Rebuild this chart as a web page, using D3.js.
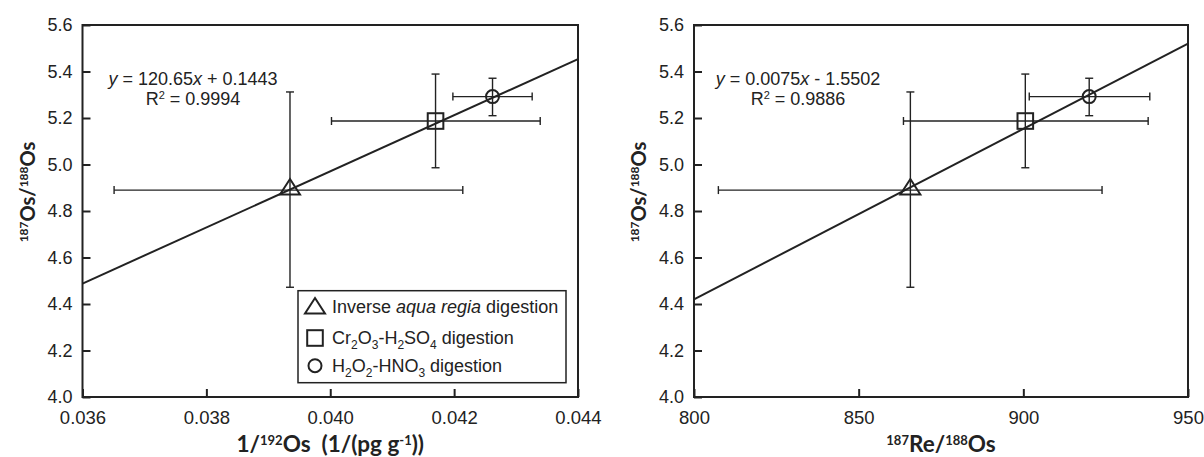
<!DOCTYPE html>
<html>
<head>
<meta charset="utf-8">
<script src="https://cdn.jsdelivr.net/npm/d3@7"></script>
<style>
  body { margin: 0; background: #fff; }
  text { fill: #222; }
</style>
</head>
<body>
<div id="wrapper"></div>
<script>
// digestion methods, one entry per point
const methods = ["triangle", "square", "circle"];

// 187Os/188Os with error range
const osRatio = [4.89, 5.187, 5.292];
const osRatioLow = [4.472, 4.986, 5.21];
const osRatioHigh = [5.312, 5.389, 5.371];

// 1/192Os (1/(pg g-1)) with error range
const invOs = [0.03935, 0.0417, 0.04262];
const invOsLow = [0.03651, 0.04002, 0.04198];
const invOsHigh = [0.04214, 0.04339, 0.04326];

// 187Re/188Os with error range
const reOs = [865.7, 900.6, 920.0];
const reOsLow = [807.4, 863.6, 901.8];
const reOsHigh = [923.9, 937.9, 938.4];

// regression lines (end points)
const fitLeftX = [0.036, 0.044];
const fitLeftY = [4.488, 5.453];
const fitRightX = [800, 950];
const fitRightY = [4.42, 5.52];

const yTicks = [4.0, 4.2, 4.4, 4.6, 4.8, 5.0, 5.2, 5.4, 5.6];
const xTicksLeft = [0.036, 0.038, 0.040, 0.042, 0.044];
const xTicksRight = [800, 850, 900, 950];

const numFont = "'Liberation Sans', Arial, sans-serif";
const titleFont = "Lato, 'DejaVu Sans', sans-serif";

const svg = d3
  .select("#wrapper")
  .append("svg")
  .attr("width", 1204)
  .attr("height", 457);

const drawMarker = (g, shape, x, y) => {
  if (shape === "triangle") {
    g.append("path")
      .attr("d", `M${x},${y - 11}L${x + 10},${y + 4.5}L${x - 10},${y + 4.5}Z`)
      .attr("fill", "none")
      .attr("stroke", "#222")
      .attr("stroke-width", 2)
      .attr("stroke-linejoin", "miter");
  } else if (shape === "square") {
    g.append("rect")
      .attr("x", x - 7.8)
      .attr("y", y - 7.8)
      .attr("width", 15.6)
      .attr("height", 15.6)
      .attr("fill", "none")
      .attr("stroke", "#222")
      .attr("stroke-width", 2);
  } else {
    g.append("circle")
      .attr("cx", x)
      .attr("cy", y)
      .attr("r", 6.5)
      .attr("fill", "none")
      .attr("stroke", "#222")
      .attr("stroke-width", 2);
  }
};

const drawPanel = (opt) => {
  const dims = { left: opt.left, top: 25, width: opt.width, height: 372 };

  const xScale = d3.scaleLinear().domain(opt.xDomain).range([0, dims.width]);
  const yScale = d3.scaleLinear().domain([4.0, 5.6]).range([dims.height, 0]);

  const bounds = svg
    .append("g")
    .attr("transform", `translate(${dims.left},${dims.top})`);

  // axes, ticks pointing inward
  const yAxis = d3
    .axisLeft(yScale)
    .tickValues(yTicks)
    .tickFormat(d3.format(".1f"))
    .tickSizeInner(-8)
    .tickSizeOuter(0)
    .tickPadding(10);
  const yg = bounds.append("g").call(yAxis);
  yg.select(".domain").remove();
  yg.selectAll("line").attr("stroke", "#222").attr("stroke-width", 2);
  yg.selectAll("text")
    .style("font-family", numFont)
    .style("font-size", "18px")
    .attr("fill", "#222");

  const xAxis = d3
    .axisBottom(xScale)
    .tickValues(opt.xTicks)
    .tickFormat(opt.xFormat)
    .tickSizeInner(-8)
    .tickSizeOuter(0)
    .tickPadding(14);
  const xg = bounds
    .append("g")
    .attr("transform", `translate(0,${dims.height})`)
    .call(xAxis);
  xg.select(".domain").remove();
  xg.selectAll("line").attr("stroke", "#222").attr("stroke-width", 2);
  xg.selectAll("text")
    .style("font-family", numFont)
    .style("font-size", "18.5px")
    .attr("fill", "#222");

  // frame
  bounds
    .append("rect")
    .attr("width", dims.width)
    .attr("height", dims.height)
    .attr("fill", "none")
    .attr("stroke", "#222")
    .attr("stroke-width", 2);

  // regression line
  const line = d3
    .line()
    .x((d) => xScale(d[0]))
    .y((d) => yScale(d[1]));
  bounds
    .append("path")
    .attr("d", line(d3.zip(opt.fitX, opt.fitY)))
    .attr("fill", "none")
    .attr("stroke", "#222")
    .attr("stroke-width", 2);

  // error bars
  const cap = 4;
  const errG = bounds.append("g").attr("stroke", "#222").attr("stroke-width", 1.4);
  methods.forEach((m, i) => {
    const cx = xScale(opt.x[i]);
    const cy = yScale(osRatio[i]);
    const x0 = xScale(opt.xLow[i]);
    const x1 = xScale(opt.xHigh[i]);
    const y0 = yScale(osRatioLow[i]);
    const y1 = yScale(osRatioHigh[i]);
    errG.append("line").attr("x1", x0).attr("x2", x1).attr("y1", cy).attr("y2", cy);
    errG.append("line").attr("x1", x0).attr("x2", x0).attr("y1", cy - cap).attr("y2", cy + cap);
    errG.append("line").attr("x1", x1).attr("x2", x1).attr("y1", cy - cap).attr("y2", cy + cap);
    errG.append("line").attr("x1", cx).attr("x2", cx).attr("y1", y0).attr("y2", y1);
    errG.append("line").attr("x1", cx - cap).attr("x2", cx + cap).attr("y1", y0).attr("y2", y0);
    errG.append("line").attr("x1", cx - cap).attr("x2", cx + cap).attr("y1", y1).attr("y2", y1);
  });

  // markers
  const markG = bounds.append("g");
  methods.forEach((m, i) => {
    drawMarker(markG, m, xScale(opt.x[i]), yScale(osRatio[i]));
  });

  // equation
  const eq = bounds
    .append("text")
    .attr("x", opt.eqX)
    .attr("y", 60)
    .attr("text-anchor", "middle")
    .style("font-family", numFont)
    .style("font-size", "18px")
    .attr("fill", "#222");
  eq.append("tspan").style("font-style", "italic").text("y");
  eq.append("tspan").text(opt.eq[0]);
  eq.append("tspan").style("font-style", "italic").text("x");
  eq.append("tspan").text(opt.eq[1]);

  const r2 = bounds
    .append("text")
    .attr("x", opt.eqX)
    .attr("y", 80)
    .attr("text-anchor", "middle")
    .style("font-family", numFont)
    .style("font-size", "18px")
    .attr("fill", "#222");
  r2.append("tspan").text("R");
  r2.append("tspan").attr("dy", -6).style("font-size", "11px").text("2");
  r2.append("tspan").attr("dy", 6).text(" = " + opt.r2);

  // x axis title
  const xt = svg
    .append("text")
    .attr("x", dims.left + dims.width / 2)
    .attr("y", 452)
    .attr("text-anchor", "middle")
    .style("font-family", titleFont)
    .style("font-weight", "bold")
    .style("font-size", "22.5px")
    .style("white-space", "pre")
    .attr("fill", "#222");
  opt.xTitle(xt);

  // y axis title
  const yt = svg
    .append("text")
    .attr("transform", `translate(${dims.left - 48},192) rotate(-90)`)
    .attr("text-anchor", "middle")
    .style("font-family", titleFont)
    .style("font-weight", "bold")
    .style("font-size", "20px")
    .attr("fill", "#222");
  yt.append("tspan").attr("dy", -7).style("font-size", "12px").text("187");
  yt.append("tspan").attr("dy", 7).text("Os/");
  yt.append("tspan").attr("dy", -7).style("font-size", "12px").text("188");
  yt.append("tspan").attr("dy", 7).text("Os");

  return bounds;
};

const leftBounds = drawPanel({
  left: 82.5,
  width: 495.5,
  xDomain: [0.036, 0.044],
  xTicks: xTicksLeft,
  xFormat: d3.format(".3f"),
  x: invOs,
  xLow: invOsLow,
  xHigh: invOsHigh,
  fitX: fitLeftX,
  fitY: fitLeftY,
  eqX: 110.5,
  eq: [" = 120.65", " + 0.1443"],
  r2: "0.9994",
  xTitle: (t) => {
    t.append("tspan").text("1/");
    t.append("tspan").attr("dy", -7).style("font-size", "13px").text("192");
    t.append("tspan").attr("dy", 7).text("Os  (1/(pg g");
    t.append("tspan").attr("dy", -7).style("font-size", "13px").text("-1");
    t.append("tspan").attr("dy", 7).text("))");
  },
});

drawPanel({
  left: 694,
  width: 494,
  xDomain: [800, 950],
  xTicks: xTicksRight,
  xFormat: d3.format("d"),
  x: reOs,
  xLow: reOsLow,
  xHigh: reOsHigh,
  fitX: fitRightX,
  fitY: fitRightY,
  eqX: 104,
  eq: [" = 0.0075", " - 1.5502"],
  r2: "0.9886",
  xTitle: (t) => {
    t.append("tspan").attr("dy", -7).style("font-size", "13px").text("187");
    t.append("tspan").attr("dy", 7).text("Re/");
    t.append("tspan").attr("dy", -7).style("font-size", "13px").text("188");
    t.append("tspan").attr("dy", 7).text("Os");
  },
});

// legend (left panel)
const legend = leftBounds.append("g").attr("transform", "translate(215.5,265.7)");
legend
  .append("rect")
  .attr("width", 268)
  .attr("height", 92)
  .attr("fill", "#fff")
  .attr("stroke", "#222")
  .attr("stroke-width", 1.5);

const legendRows = [
  [["Inverse ", ""], ["aqua regia", "i"], [" digestion", ""]],
  [["Cr", ""], ["2", "s"], ["O", ""], ["3", "s"], ["-H", ""], ["2", "s"], ["SO", ""], ["4", "s"], [" digestion", ""]],
  [["H", ""], ["2", "s"], ["O", ""], ["2", "s"], ["-HNO", ""], ["3", "s"], [" digestion", ""]],
];
const legendY = [16.3, 47.3, 75];
methods.forEach((m, i) => {
  drawMarker(legend, m, 17, legendY[i] + (m === "triangle" ? 2 : 0));
  const t = legend
    .append("text")
    .attr("x", 34)
    .attr("y", legendY[i] + 6.5)
    .style("font-family", numFont)
    .style("font-size", "18px")
    .attr("fill", "#222");
  let shifted = false;
  legendRows[i].forEach(([s, kind]) => {
    const ts = t.append("tspan").text(s);
    if (kind === "i") ts.style("font-style", "italic");
    if (kind === "s") {
      ts.attr("dy", 5).style("font-size", "12px");
      shifted = true;
    } else if (shifted) {
      ts.attr("dy", -5);
      shifted = false;
    }
  });
});
</script>
</body>
</html>
